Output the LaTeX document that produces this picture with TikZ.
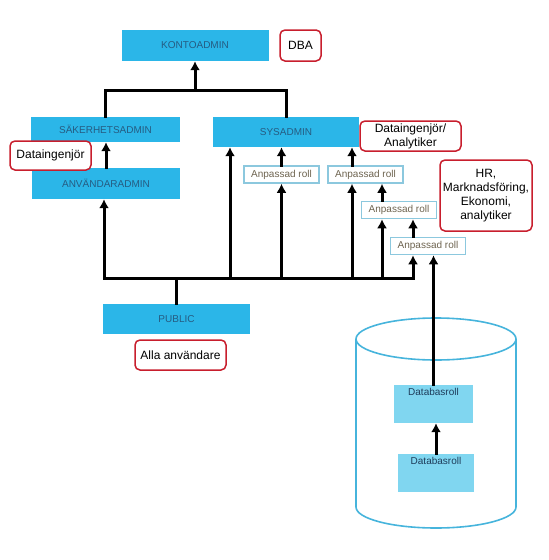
\documentclass[tikz,border=0pt]{standalone}
\usepackage{fontspec}
\setmainfont{Liberation Sans}
\usetikzlibrary{arrows.meta}
\definecolor{roleblue}{RGB}{43,182,232}
\definecolor{roletext}{RGB}{38,92,130}
\definecolor{dbblue}{RGB}{128,214,240}
\definecolor{dbtext}{RGB}{30,60,90}
\definecolor{cylblue}{RGB}{70,180,220}
\definecolor{anpline}{RGB}{140,200,222}
\definecolor{anptext}{RGB}{110,100,80}
\definecolor{notered}{RGB}{200,30,45}

\begin{document}
\begin{tikzpicture}[%
      x=1pt, y=-1pt,
      rolebox/.style={fill=roleblue, text=roletext, inner sep=0pt,
        font=\fontsize{10}{12}\selectfont},
      notebox/.style={draw=notered, line width=1.5pt, rounded corners=5pt,
        fill=white, align=center, inner sep=0pt,
        font=\fontsize{12}{14}\selectfont},
      anpbox/.style={draw=anpline, line width=1.5pt, fill=white, text=anptext,
        minimum width=75pt, minimum height=17pt, inner sep=0pt,
        font=\fontsize{10}{12}\selectfont},
      dbbox/.style={fill=dbblue, inner sep=0pt, minimum height=38pt},
      dblabel/.style={anchor=north, text=dbtext, font=\fontsize{10}{12}\selectfont},
      cylline/.style={draw=cylblue, line width=1.6pt},
      wire/.style={line width=3pt, line cap=rect},
      arr/.style={wire, -{Latex[length=9pt,width=10pt]}},
      ]
      \useasboundingbox (0,0) rectangle (549,560);

      % database
      \draw[cylline] (356,339) -- (356,507)
        arc[start angle=180, end angle=0, x radius=80, y radius=21] -- (516,339);
      \draw[cylline] (436,339) ellipse [x radius=80, y radius=21];

      \node[rolebox, minimum width=147pt, minimum height=31pt] (konto) at (195,45.5) {KONTOADMIN};
      \node[notebox, minimum width=41pt, minimum height=31pt] (dba) at (300.5,45.5) {DBA};

      \node[rolebox, minimum width=149pt, minimum height=25pt] (saker) at (105.5,129.5) {SÄKERHETSADMIN};
      \node[rolebox, minimum width=148pt, minimum height=31pt] (anvand) at (106,183.5) {ANVÄNDARADMIN};
      \node[notebox, minimum width=81pt, minimum height=29pt] (deing) at (50.5,155.5) {Dataingenjör};

      \node[rolebox, minimum width=146pt, minimum height=30pt] (sys) at (286,132) {SYSADMIN};
      \node[notebox, minimum width=101pt, minimum height=30pt] (dean) at (410.5,136) {Dataingenjör/\\Analytiker};

      \node[anpbox] (a1) at (281.5,174.5) {Anpassad roll};
      \node[anpbox] (a2) at (365.5,174.5) {Anpassad roll};
      \node[anpbox] (a3) at (399,210) {Anpassad roll};
      \node[anpbox] (a4) at (428,246) {Anpassad roll};
      \node[notebox, minimum width=92pt, minimum height=71pt] (hr) at (486,195.5)
        {HR,\\Marknadsföring,\\Ekonomi,\\analytiker};

      \node[rolebox, minimum width=147pt, minimum height=30pt] (public) at (176.5,319) {PUBLIC};
      \node[notebox, minimum width=91pt, minimum height=30pt] (alla) at (180.5,355) {Alla användare};

      \node[dbbox, minimum width=79pt] (db1) at (433.5,404) {};
      \node[dblabel] at (db1.north) {Databasroll};
      \node[dbbox, minimum width=76pt] (db2) at (436,473) {};
      \node[dblabel] at (db2.north) {Databasroll};

      % connectors
      \coordinate (top) at (195,90);
      \coordinate (bl) at (104,278);
      \coordinate (b1) at (230,278);
      \coordinate (b2) at (281.5,278);
      \coordinate (b3) at (352,278);
      \coordinate (b4) at (382,278);
      \coordinate (br) at (413,278);

      \draw[wire] (saker.north) |- (top) -| (sys.north);
      \draw[arr] (top) -- (konto.south);
      \draw[arr] (anvand.north) -- (anvand.north |- saker.south);

      \draw[wire] (bl) -- (br);
      \draw[wire] (public.north) -- (public.north |- bl);
      \draw[arr] (bl) -- (bl |- anvand.south);
      \draw[arr] (b1) -- (b1 |- sys.south);
      \draw[arr] (b2) -- (b2 |- a1.south);
      \draw[arr] (a1.north) -- (a1.north |- sys.south);
      \draw[arr] (b3) -- (b3 |- a2.south);
      \draw[arr] (b3 |- a2.north) -- (b3 |- sys.south);
      \draw[arr] (b4) -- (b4 |- a3.south);
      \draw[arr] (b4 |- a3.north) -- (b4 |- a2.south);
      \draw[arr] (br) -- (br |- a4.south);
      \draw[arr] (br |- a4.north) -- (br |- a3.south);
      \draw[arr] (db1.north) -- (db1.north |- a4.south);
      \draw[arr] (db2.north) -- (db2.north |- db1.south);
      \end{tikzpicture}
\end{document}
